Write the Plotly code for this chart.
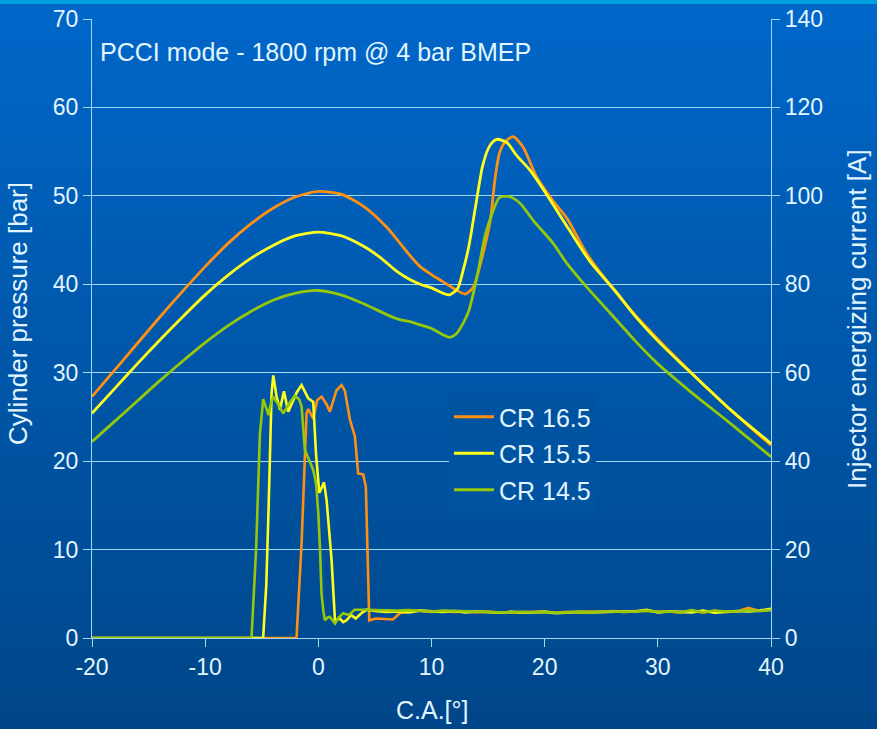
import plotly.graph_objects as go

# ---------------- data ----------------
# Cylinder pressure [bar] vs crank angle [deg]
ca_p165 = [-20, -18, -16, -14, -12, -10, -8, -6, -4, -2, 0, 2, 4, 6, 7, 8, 9, 10, 11, 12, 13,
           13.7, 14.4, 15.2, 15.6, 16, 16.5, 17.2, 18.1, 19.3, 20.7, 22, 23.7, 26.6, 28, 30, 32,
           34, 36, 38, 40]
p165 = [27.3, 30.3, 33.3, 36.3, 39.2, 42.0, 44.6, 46.8, 48.6, 49.9, 50.5, 50.2, 48.8, 46.5, 45.0,
        43.4, 42.0, 41.1, 40.3, 39.5, 38.9, 39.7, 42.7, 47.3, 51.8, 54.8, 56.1, 56.7, 55.5, 52.1,
        49.5, 47.4, 43.5, 38.6, 36.5, 33.8, 31.2, 28.7, 26.3, 24.0, 21.8]

ca_p155 = [-20, -18, -16, -14, -12, -10, -8, -6, -4, -2, 0, 2, 4, 5.4, 7, 8, 9, 10, 11, 11.6,
           12.3, 12.8, 13.3, 13.8, 14.2, 14.5, 15, 15.4, 15.8, 16.7, 17.5, 18.7, 20, 22.2, 24,
           26.4, 28, 30, 32, 34, 36, 38, 40]
p155 = [25.4, 28.2, 31.0, 33.7, 36.3, 38.8, 41.0, 42.9, 44.4, 45.5, 45.9, 45.5, 44.3, 43.1, 41.4,
        40.6, 40.0, 39.6, 39.0, 38.8, 39.5, 41.6, 44.3, 48.1, 51.2, 53.3, 55.3, 56.1, 56.4, 56.0,
        54.6, 52.9, 50.5, 46.1, 42.6, 39.0, 36.4, 33.6, 31.1, 28.7, 26.3, 24.1, 22.0]

ca_p145 = [-20, -18, -16, -14, -12, -10, -8, -6, -4, -2, 0, 2, 4, 6, 7.2, 8, 9, 10, 11, 11.6,
           12.2, 12.8, 13.3, 13.7, 14.2, 14.7, 15.3, 16, 16.9, 17.8, 19, 20.7, 22, 23.7, 26.6,
           28, 30, 32, 34, 36, 38, 40]
p145 = [22.2, 24.5, 26.8, 29.1, 31.3, 33.4, 35.3, 36.9, 38.2, 39.0, 39.3, 38.8, 37.8, 36.6, 36.0,
        35.8, 35.4, 35.0, 34.3, 34.0, 34.4, 35.6, 37.0, 39.0, 42.0, 45.3, 47.8, 49.8, 49.9, 49.2,
        47.2, 44.7, 42.3, 39.7, 35.6, 33.6, 31.0, 28.8, 26.7, 24.7, 22.6, 20.5]

# Injector energizing current [A] vs crank angle [deg]
ca_i165 = [-20, -2.0, -1.92, -1.48, -1.04, -0.89, -0.45, -0.1, 0.28, 0.7, 1.02, 1.6, 2.05, 2.34,
           2.79, 3.23, 3.52, 3.96, 4.2, 4.35, 4.5, 5.1, 6.0, 6.6, 7.2,
           8, 9, 10, 11, 12, 13, 14, 15, 16, 17, 18, 19, 20, 21, 22, 23, 24, 25, 26, 27, 28, 29,
           30, 31, 32, 33, 34, 35, 36, 37, 38, 39, 40]
i165 = [0, 0, 0.3, 21.4, 50.8, 51.8, 49.6, 53.8, 54.6, 53.0, 51.2, 56.0, 57.2, 56.0,
        49.4, 45.6, 37.2, 37.0, 34.2, 20.0, 4.0, 4.4, 4.2, 4.2, 5.6,
        6.0, 6.2, 5.9, 6.1, 5.9, 6.0, 5.8, 6.0, 5.7, 5.9, 5.8, 5.9, 6.0, 5.7, 5.9, 5.8, 6.0, 5.9,
        6.1, 5.9, 6.0, 6.2, 5.9, 6.0, 5.8, 6.1, 5.8, 6.1, 5.9, 6.0, 6.8, 6.1, 6.4]

ca_i155 = [-20, -4.9, -4.87, -4.6, -4.4, -4.13, -3.98, -3.69, -3.39, -3.04, -2.66, -2.22, -1.9,
           -1.48, -0.89, -0.45, -0.21, 0.08, 0.3, 0.5, 0.73, 0.95, 1.17, 1.47, 1.9, 2.2, 2.49,
           2.9, 3.3, 3.8, 4.26,
           5, 6, 7, 8, 9, 10, 11, 12, 13, 14, 15, 16, 17, 18, 19, 20, 21, 22, 23, 24, 25, 26, 27,
           28, 29, 30, 31, 32, 33, 34, 35, 36, 37, 38, 39, 40]
i155 = [0, 0, 0.3, 12.0, 29.0, 55.4, 59.4, 54.6, 51.6, 55.8, 51.2, 53.8, 55.6,
        57.2, 54.2, 53.4, 41.8, 32.8, 34.0, 35.2, 31.2, 24.0, 17.6, 4.0, 4.4, 3.6, 4.0,
        5.2, 4.4, 5.6, 6.4,
        6.1, 5.9, 6.0, 5.8, 6.2, 6.0, 5.9, 6.1, 5.8, 6.0, 5.9, 5.7, 5.9, 5.7, 5.8, 5.9, 5.6, 5.8,
        5.9, 5.8, 5.9, 5.9, 6.0, 6.0, 6.4, 5.8, 6.0, 5.9, 5.8, 6.2, 5.7, 5.9, 6.1, 6.0, 6.2, 6.6]

ca_i145 = [-20, -6.0, -5.9, -5.5, -5.16, -4.87, -4.6, -4.4, -4.2, -3.98, -3.5, -3.1, -2.6, -2.07,
           -1.7, -1.48, -1.19, -0.8, -0.45, -0.2, 0.0, 0.15, 0.28, 0.45, 0.58, 0.8, 1.0, 1.25,
           1.47, 1.8, 2.2, 2.7, 3.2,
           4, 5, 6, 7, 8, 9, 10, 11, 12, 13, 14, 15, 16, 17, 18, 19, 20, 21, 22, 23, 24, 25, 26,
           27, 28, 29, 30, 31, 32, 33, 34, 35, 36, 37, 38, 39, 40]
i145 = [0, 0, 0.3, 20.0, 46.2, 54.0, 52.0, 50.4, 53.0, 54.6, 52.6, 50.8, 53.0, 54.8,
        54.0, 52.4, 42.6, 40.0, 38.0, 35.0, 28.2, 20.0, 10.1, 6.0, 4.0, 4.6, 4.8, 4.0,
        3.3, 4.6, 5.6, 5.2, 6.4,
        6.4, 6.3, 6.2, 6.2, 6.3, 6.2, 6.0, 6.2, 6.1, 6.0, 6.0, 5.9, 5.8, 5.8, 5.9, 5.8, 5.9, 5.7,
        5.8, 5.9, 5.8, 6.0, 6.0, 5.9, 6.0, 6.2, 5.9, 6.0, 5.8, 6.3, 5.8, 6.2, 6.0, 6.0, 6.3, 6.1,
        6.3]

series_names = ["CR 16.5", "CR 15.5", "CR 14.5"]
x_ticks = [-20, -10, 0, 10, 20, 30, 40]
x_tick_labels = ["-20", "-10", "0", "10", "20", "30", "40"]
y_ticks = [0, 10, 20, 30, 40, 50, 60, 70]
y2_ticks = [0, 20, 40, 60, 80, 100, 120, 140]

# ---------------- style ----------------
colors = ["#FF9012", "#FFFF1A", "#96C80A"]
txt = "#E2F5FF"
grid = "#A3D8F2"
FONT = "Liberation Sans, Arial, sans-serif"

W, H = 877, 729
L, R, T, B = 92, 771, 19, 638
pw, ph = R - L, B - T


def py2p(py):
    return (B - py) / ph


def px2p(px):
    return (px - L) / pw


fig = go.Figure()
pressure = [(ca_p165, p165), (ca_p155, p155), (ca_p145, p145)]
current = [(ca_i165, i165), (ca_i155, i155), (ca_i145, i145)]
for k in range(3):
    fig.add_trace(go.Scatter(x=current[k][0], y=current[k][1], yaxis="y2", mode="lines",
                             line=dict(color=colors[k], width=2.6), legendgroup=series_names[k],
                             showlegend=False, hoverinfo="skip"))
for k in range(3):
    fig.add_trace(go.Scatter(x=pressure[k][0], y=pressure[k][1], mode="lines",
                             name=series_names[k], legendgroup=series_names[k],
                             line=dict(color=colors[k], width=2.8, shape="spline", smoothing=0.7)))

# background gradient strips
top = (0x00, 0x67, 0xC9)
bot = (0x00, 0x46, 0x89)
shapes = []
n = 160
y_start = 4
for k in range(n):
    a = y_start + (H - y_start) * k / n
    b = y_start + (H - y_start) * (k + 1) / n
    f = (k + 0.5) / n
    c = tuple(round(top[i] + (bot[i] - top[i]) * f) for i in range(3))
    shapes.append(dict(type="rect", xref="paper", yref="paper", x0=px2p(-2), x1=px2p(W + 2),
                       y0=py2p(b + 0.6), y1=py2p(a), fillcolor="rgb(%d,%d,%d)" % c,
                       line=dict(width=0), layer="below"))
shapes.append(dict(type="rect", xref="paper", yref="paper", x0=px2p(-2), x1=px2p(W + 2),
                   y0=py2p(4), y1=py2p(-2), fillcolor="#00A0E0", line=dict(width=0),
                   layer="below"))

fl = (452 - y_start) / (H - y_start)
leg_bg = "rgb(%d,%d,%d)" % tuple(round(top[i] + (bot[i] - top[i]) * fl) for i in range(3))

axis_common = dict(showline=True, linecolor=grid, linewidth=1.3, ticks="outside", ticklen=8,
                   tickcolor=grid, tickwidth=1.3, zeroline=False, automargin=False,
                   tickfont=dict(family=FONT, size=23, color=txt))

fig.update_layout(
    width=W, height=H,
    margin=dict(l=L, r=W - R, t=T, b=H - B, autoexpand=False),
    paper_bgcolor="#0057AA",
    plot_bgcolor="rgba(0,0,0,0)",
    shapes=shapes,
    font=dict(family=FONT, color=txt, size=23),
    xaxis=dict(range=[-20, 40], tickvals=x_ticks, ticktext=x_tick_labels, showgrid=False,
               **axis_common),
    yaxis=dict(range=[0, 70], tickvals=y_ticks, showgrid=True, gridcolor=grid, gridwidth=1.2,
               **axis_common),
    yaxis2=dict(range=[0, 140], tickvals=y2_ticks, overlaying="y", side="right", showgrid=False,
                **axis_common),
    legend=dict(x=px2p(449), y=py2p(394), xanchor="left", yanchor="top", bgcolor=leg_bg,
                borderwidth=0, font=dict(family=FONT, size=25, color=txt),
                tracegroupgap=1, itemwidth=40, entrywidth=128),
    annotations=[
        dict(text="PCCI mode - 1800 rpm @ 4 bar BMEP", xref="paper", yref="paper",
             x=px2p(98), y=py2p(52), xanchor="left", yanchor="middle", showarrow=False,
             font=dict(family=FONT, size=25, color=txt)),
        dict(text="C.A.[°]", xref="paper", yref="paper", x=px2p(432), y=py2p(710),
             xanchor="center", yanchor="middle", showarrow=False,
             font=dict(family=FONT, size=25, color=txt)),
        dict(text="Cylinder pressure [bar]", xref="paper", yref="paper", x=px2p(18),
             y=py2p(314), xanchor="center", yanchor="middle", showarrow=False, textangle=-90,
             font=dict(family=FONT, size=26, color=txt)),
        dict(text="Injector energizing current [A]", xref="paper", yref="paper", x=px2p(857),
             y=py2p(319), xanchor="center", yanchor="middle", showarrow=False, textangle=-90,
             font=dict(family=FONT, size=26, color=txt)),
        dict(text=".", xref="paper", yref="paper", x=px2p(860), y=py2p(160), xanchor="center",
             yanchor="middle", showarrow=False, textangle=-90,
             font=dict(family=FONT, size=14, color=txt)),
    ],
)

fig.write_html("out.html", config={"displayModeBar": False},
               post_script="document.body.style.margin='0';document.body.style.overflow='hidden';")
